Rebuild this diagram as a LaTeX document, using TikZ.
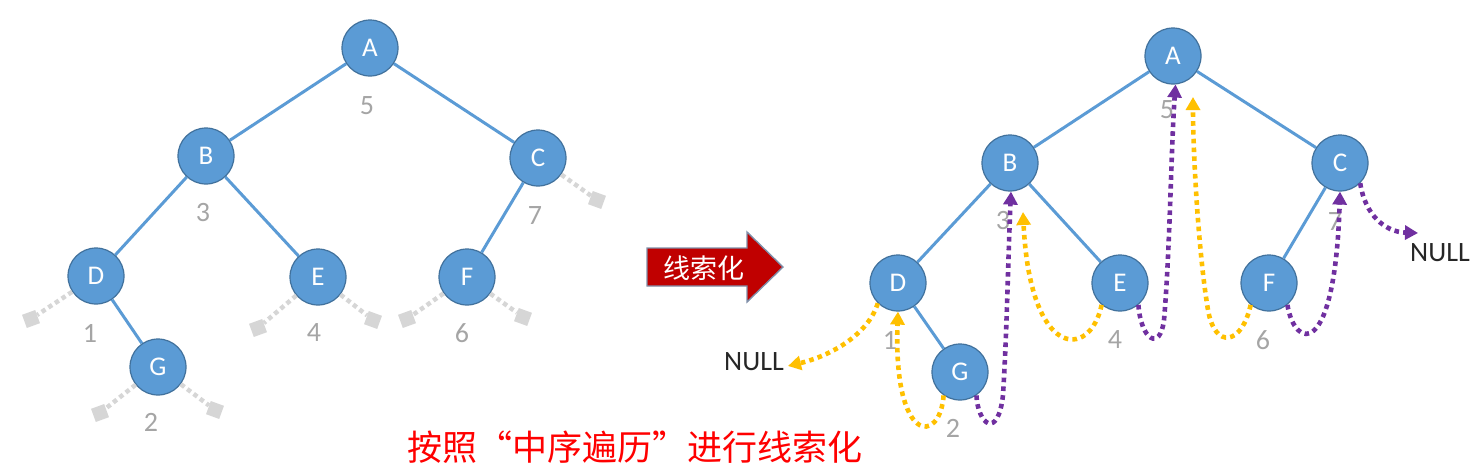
\documentclass[tikz,border=0pt]{standalone}
\usepackage{fontspec}
\setmainfont{Carlito}
\newfontfamily\cjk{Noto Sans CJK SC}
\usetikzlibrary{arrows.meta}
\definecolor{nodefill}{HTML}{5B9BD5}
\definecolor{nodeline}{HTML}{41719C}
\definecolor{edgecol}{HTML}{5B9BD5}
\definecolor{lblcol}{HTML}{A5A5A5}
\definecolor{stubcol}{HTML}{D6D6D6}
\definecolor{thrO}{HTML}{FFC000}
\definecolor{thrP}{HTML}{7030A0}
\definecolor{arrred}{HTML}{C00000}
\definecolor{arrline}{HTML}{7F8FA9}
\tikzset{
  tnode/.style={circle, minimum size=56pt, inner sep=0pt, fill=nodefill, draw=nodeline, line width=1.2pt, text=white, font=\fontsize{27}{30}\selectfont},
  tedge/.style={draw=edgecol, line width=3pt},
  lbl/.style={text=lblcol, font=\fontsize{28}{30}\selectfont},
  stub/.style={draw=stubcol, line width=4.5pt, dash pattern=on 4.5pt off 3.5pt},
  stubsq/.style={rectangle, minimum size=14pt, inner sep=0pt, fill=stubcol},
  thread/.style={line width=4.6pt, dash pattern=on 4.6pt off 4.2pt, -{Triangle[length=13pt,width=14pt]}},
  nulltxt/.style={text=black!85, font=\fontsize{28}{30}\selectfont}
}
\begin{document}
\begin{tikzpicture}[x=1pt,y=-1pt]
\useasboundingbox (0,0) rectangle (1481,472);
% ---------- left tree ----------
\node[tnode] (lA) at (370,48) {A};
\node[tnode] (lB) at (206,156) {B};
\node[tnode] (lC) at (538,158) {C};
\node[tnode] (lD) at (96,276) {D};
\node[tnode] (lE) at (318,277) {E};
\node[tnode] (lF) at (467,277) {F};
\node[tnode] (lG) at (158,367) {G};
\path[tedge] (lA) -- (lB);
\path[tedge] (lA) -- (lC);
\path[tedge] (lB) -- (lD);
\path[tedge] (lB) -- (lE);
\path[tedge] (lC) -- (lF);
\path[tedge] (lD) -- (lG);
\node[lbl] (l5) at (367,106) {5};
\node[lbl] (l3) at (203,213) {3};
\node[lbl] (l7) at (535,216) {7};
\node[lbl] (l1) at (90,333) {1};
\node[lbl] (l4) at (314,333) {4};
\node[lbl] (l6) at (462,333) {6};
\node[lbl] (l2) at (151,422) {2};
% null stubs
\node[stubsq, rotate=20] (sD) at (31,319) {};
\node[stubsq, rotate=20] (sGl) at (100,413) {};
\node[stubsq, rotate=-20] (sGr) at (215,410) {};
\node[stubsq, rotate=20] (sEl) at (258,328) {};
\node[stubsq, rotate=-20] (sEr) at (373,320) {};
\node[stubsq, rotate=20] (sFl) at (407,319) {};
\node[stubsq, rotate=-20] (sFr) at (523,317) {};
\node[stubsq, rotate=-20] (sC) at (597,200) {};
\draw[stub] (lD) -- (sD);
\draw[stub] (lG) -- (sGl);
\draw[stub] (lG) -- (sGr);
\draw[stub] (lE) -- (sEl);
\draw[stub] (lE) -- (sEr);
\draw[stub] (lF) -- (sFl);
\draw[stub] (lF) -- (sFr);
\draw[stub] (lC) -- (sC);
% ---------- arrow ----------
\draw[fill=arrred, draw=arrline, line width=1.4pt] (647,248) -- (747,248) -- (747,232) -- (783,267) -- (747,302) -- (747,286) -- (647,286) -- cycle;
\node[text=white, font=\cjk\fontsize{27}{30}\selectfont] (arrtxt) at (704,268) {线索化};
% ---------- right tree ----------
\node[tnode] (rA) at (1173,56) {A};
\node[tnode] (rB) at (1010,163) {B};
\node[tnode] (rC) at (1340,163) {C};
\node[tnode] (rD) at (898,283) {D};
\node[tnode] (rE) at (1120,283) {E};
\node[tnode] (rF) at (1269,283) {F};
\node[tnode] (rG) at (960,372) {G};
\path[tedge] (rA) -- (rB);
\path[tedge] (rA) -- (rC);
\path[tedge] (rB) -- (rD);
\path[tedge] (rB) -- (rE);
\path[tedge] (rC) -- (rF);
\path[tedge] (rD) -- (rG);
\node[lbl] (r5) at (1167,110) {5};
\node[lbl] (r3) at (1003,221) {3};
\node[lbl] (r7) at (1335,222) {7};
\node[lbl] (r1) at (890,340) {1};
\node[lbl] (r4) at (1115,340) {4};
\node[lbl] (r6) at (1263,340) {6};
\node[lbl] (r2) at (953,428) {2};
\node[nulltxt] (nullL) at (754,362) {NULL};
\node[nulltxt] (nullR) at (1440,253) {NULL};
\coordinate (tDnull) at (788,366);
\coordinate (tCnull) at (1418,233);
% threads
\draw[thread, draw=thrO] (rD.225) .. controls (868,335) and (830,356) .. (tDnull);
\draw[thread, draw=thrO] (rG.235) .. controls (940,445) and (893,445) .. (rD.270);
\draw[thread, draw=thrP] (rG.305) .. controls (978,425) and (998,440) .. (1003,395) .. controls (1007,330) and (1008,260) .. (rB.272);
\draw[thread, draw=thrO] (rE.230) .. controls (1090,360) and (1030,360) .. (1023,212);
\draw[thread, draw=thrP] (rE.310) .. controls (1141,340) and (1160,352) .. (1164,320) .. controls (1170,250) and (1171,150) .. (rA.275);
\draw[thread, draw=thrO] (rF.230) .. controls (1242,345) and (1215,350) .. (1208,310) .. controls (1198,250) and (1193,150) .. (1193,97);
\draw[thread, draw=thrP] (rF.310) .. controls (1295,350) and (1335,360) .. (rC.270);
\draw[thread, draw=thrP] (rC.315) .. controls (1365,215) and (1385,232) .. (tCnull);
% bottom caption
\node[text=red, font=\cjk\fontsize{35}{38}\selectfont] (cap) at (635,447) {按照“中序遍历”进行线索化};
\end{tikzpicture}
\end{document}
